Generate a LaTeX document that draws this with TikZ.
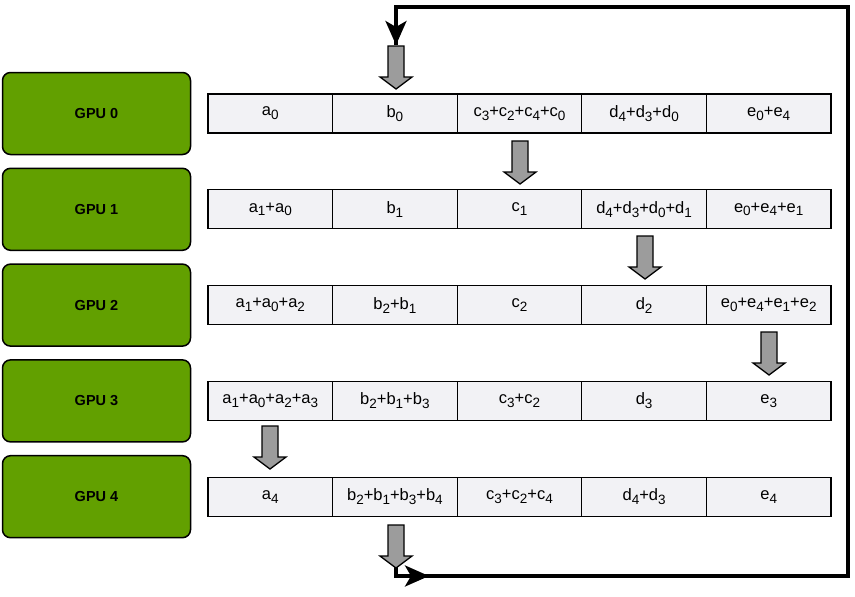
\documentclass[tikz,border=0pt]{standalone}
\usepackage{fontspec}
\setmainfont{Liberation Sans}
\usetikzlibrary{arrows.meta,calc}
\definecolor{gpugreen}{HTML}{62A000}
\definecolor{cellgray}{HTML}{F2F2F5}
\definecolor{arrowgray}{HTML}{9C9C9C}
\newcommand\sbx[1]{\raisebox{-0.45ex}{\fontsize{13.5}{13.5}\selectfont #1}}
\newcommand\blockarrow[3]{% name, x, ytop
  \coordinate (#1) at (#2,#3);
  \fill[arrowgray,draw=black,line width=1.3pt,line join=miter]
    ($(#1)+(-8,0)$) -- ($(#1)+(8,0)$) -- ($(#1)+(8,31)$) -- ($(#1)+(16,31)$)
    -- ($(#1)+(0,43)$) -- ($(#1)+(-16,31)$) -- ($(#1)+(-8,31)$) -- cycle;}
\begin{document}
\begin{tikzpicture}[x=1pt,y=-1pt,
  gpu/.style={draw=black,line width=1.5pt,rounded corners=8pt,fill=gpugreen,
    minimum width=188pt,minimum height=82pt,inner sep=0pt,
    font=\bfseries\fontsize{14.5}{16}\selectfont},
  cell/.style={draw=black,line width=1.3pt,fill=cellgray,
    minimum width=124.6pt,minimum height=39pt,inner sep=0pt,
    font=\fontsize{16.5}{18}\selectfont},
  loopline/.style={line width=3.5pt,line join=miter},
]
\useasboundingbox (0,0) rectangle (855,597);

% GPU boxes
\node[gpu] (g0) at (96.5,113.5) {GPU 0};
\node[gpu] (g1) at (96.5,209.3) {GPU 1};
\node[gpu] (g2) at (96.5,305.1) {GPU 2};
\node[gpu] (g3) at (96.5,400.9) {GPU 3};
\node[gpu] (g4) at (96.5,496.7) {GPU 4};

% loop connector
\coordinate (ls) at (396,560);
\coordinate (lb) at (396,576);
\coordinate (lbr) at (848,576);
\coordinate (ltr) at (848,7);
\coordinate (lt) at (396,7);
\coordinate (le) at (396,45);
\coordinate (lm) at (429,576);
\draw[loopline] (ls) -- (lb) -- (lbr) -- (ltr) -- (lt) -- (le);
\draw[line width=3.5pt,-{Stealth[length=24pt,width=21pt,inset=6pt]}] (lt) -- (le);
\draw[line width=3.5pt,-{Stealth[length=24pt,width=21pt,inset=6pt]}] (lb) -- (lm);

% row 0
\node[cell] (c00) at (270.3,113.5) {a\sbx{0}};
\node[cell] (c01) at (394.9,113.5) {b\sbx{0}};
\node[cell] (c02) at (519.5,113.5) {c\sbx{3}+c\sbx{2}+c\sbx{4}+c\sbx{0}};
\node[cell] (c03) at (644.1,113.5) {d\sbx{4}+d\sbx{3}+d\sbx{0}};
\node[cell] (c04) at (768.7,113.5) {e\sbx{0}+e\sbx{4}};
% row 1
\node[cell] (c10) at (270.3,209.3) {a\sbx{1}+a\sbx{0}};
\node[cell] (c11) at (394.9,209.3) {b\sbx{1}};
\node[cell] (c12) at (519.5,209.3) {c\sbx{1}};
\node[cell] (c13) at (644.1,209.3) {d\sbx{4}+d\sbx{3}+d\sbx{0}+d\sbx{1}};
\node[cell] (c14) at (768.7,209.3) {e\sbx{0}+e\sbx{4}+e\sbx{1}};
% row 2
\node[cell] (c20) at (270.3,305.1) {a\sbx{1}+a\sbx{0}+a\sbx{2}};
\node[cell] (c21) at (394.9,305.1) {b\sbx{2}+b\sbx{1}};
\node[cell] (c22) at (519.5,305.1) {c\sbx{2}};
\node[cell] (c23) at (644.1,305.1) {d\sbx{2}};
\node[cell] (c24) at (768.7,305.1) {e\sbx{0}+e\sbx{4}+e\sbx{1}+e\sbx{2}};
% row 3
\node[cell] (c30) at (270.3,400.9) {a\sbx{1}+a\sbx{0}+a\sbx{2}+a\sbx{3}};
\node[cell] (c31) at (394.9,400.9) {b\sbx{2}+b\sbx{1}+b\sbx{3}};
\node[cell] (c32) at (519.5,400.9) {c\sbx{3}+c\sbx{2}};
\node[cell] (c33) at (644.1,400.9) {d\sbx{3}};
\node[cell] (c34) at (768.7,400.9) {e\sbx{3}};
% row 4
\node[cell] (c40) at (270.3,496.7) {a\sbx{4}};
\node[cell] (c41) at (394.9,496.7) {b\sbx{2}+b\sbx{1}+b\sbx{3}+b\sbx{4}};
\node[cell] (c42) at (519.5,496.7) {c\sbx{3}+c\sbx{2}+c\sbx{4}};
\node[cell] (c43) at (644.1,496.7) {d\sbx{4}+d\sbx{3}};
\node[cell] (c44) at (768.7,496.7) {e\sbx{4}};

% gray block arrows
\blockarrow{ba0}{396}{46}
\blockarrow{ba1}{520}{141}
\blockarrow{ba2}{645}{236}
\blockarrow{ba3}{769}{332}
\blockarrow{ba4}{270}{426}
\blockarrow{ba5}{396}{525}
\end{tikzpicture}
\end{document}
